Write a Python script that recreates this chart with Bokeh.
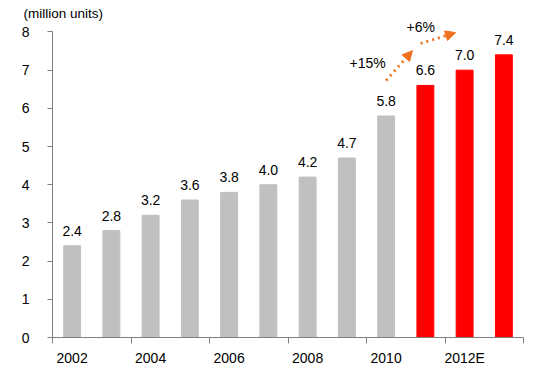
from bokeh.plotting import figure
from bokeh.models import ColumnDataSource, FixedTicker, Range1d, LabelSet, Label, Arrow, NormalHead
from bokeh.core.properties import value
from bokeh.embed import file_html
from bokeh.resources import INLINE

years = ["2002", "2003", "2004", "2005", "2006", "2007", "2008", "2009", "2010", "2011", "2012E", "2013E"]
values = [2.4, 2.8, 3.2, 3.6, 3.8, 4.0, 4.2, 4.7, 5.8, 6.6, 7.0, 7.4]
colors = ["#C0C0C0"] * 9 + ["#FF0000"] * 3
value_labels = ["2.4", "2.8", "3.2", "3.6", "3.8", "4.0", "4.2", "4.7", "5.8", "6.6", "7.0", "7.4"]
tick_years = {0: "2002", 2: "2004", 4: "2006", 6: "2008", 8: "2010", 10: "2012E"}
growth_labels = ["+15%", "+6%"]

FONT = "Liberation Sans"

xs = [i + 0.5 for i in range(len(years))]
src = ColumnDataSource(dict(x=xs, top=values, color=colors, lab=value_labels))

p = figure(width=534, height=369, output_backend="svg", toolbar_location=None,
           x_range=Range1d(0, len(years)), y_range=Range1d(0, 8.3),
           min_border_left=52, min_border_right=11, min_border_top=20, min_border_bottom=32)
p.outline_line_color = None
p.grid.visible = False

p.vbar(x="x", top="top", width=0.43, color="color", source=src)

labels = LabelSet(x="x", y="top", text="lab", source=src, text_align="center",
                  text_baseline="bottom", y_offset=10, text_font=value(FONT), text_font_size=value("14px"),
                  text_color="#000000")
p.add_layout(labels)

# axes
xa = p.xaxis[0]
xa.ticker = FixedTicker(ticks=[k + 0.5 for k in tick_years], minor_ticks=list(range(0, len(years) + 1, 2)))
xa.major_label_overrides = {k + 0.5: v for k, v in tick_years.items()}
xa.major_tick_line_color = None
xa.major_tick_out = 0
xa.major_tick_in = 0
xa.minor_tick_line_color = "#808080"
xa.minor_tick_out = 6
xa.minor_tick_in = 0
xa.major_label_standoff = 6
xa.axis_label_standoff = 0
xa.axis_line_color = "#808080"
xa.major_label_text_font = FONT
xa.major_label_text_font_size = "14px"
xa.major_label_text_color = "#000000"

ya = p.yaxis[0]
ya.ticker = FixedTicker(ticks=list(range(0, 9)))
ya.bounds = (0, 8)
ya.minor_tick_line_color = None
ya.major_tick_out = 5
ya.major_tick_in = 0
ya.major_tick_line_color = "#808080"
ya.axis_line_color = "#808080"
ya.major_label_standoff = 18
ya.major_label_text_font = FONT
ya.major_label_text_font_size = "14px"
ya.major_label_text_color = "#000000"

# title
p.title.text = "(million units)"
p.title.align = "left"
p.title.offset = -29
p.title.standoff = 0
p.title.text_font = FONT
p.title.text_font_size = "13.5px"
p.title.text_font_style = "normal"
p.title.text_color = "#000000"

# growth arrows
orange = "#F07020"
a1 = Arrow(x_start=8.5, y_start=6.73, x_end=9.17, y_end=7.51,
           line_color=orange, line_width=3, line_dash="dotted",
           end=NormalHead(size=10, fill_color=orange, line_color=orange))
a2 = Arrow(x_start=9.38, y_start=7.7, x_end=10.27, y_end=7.98,
           line_color=orange, line_width=3, line_dash="dotted",
           end=NormalHead(size=10, fill_color=orange, line_color=orange))
p.add_layout(a1)
p.add_layout(a2)

p.add_layout(Label(x=8.03, y=7.2, text=growth_labels[0], text_align="center", text_baseline="middle",
                   text_font=FONT, text_font_size="14px", text_color="#000000"))
p.add_layout(Label(x=9.38, y=8.13, text=growth_labels[1], text_align="center", text_baseline="middle",
                   text_font=FONT, text_font_size="14px", text_color="#000000"))

open("out.html", "w").write(file_html(p, INLINE))
